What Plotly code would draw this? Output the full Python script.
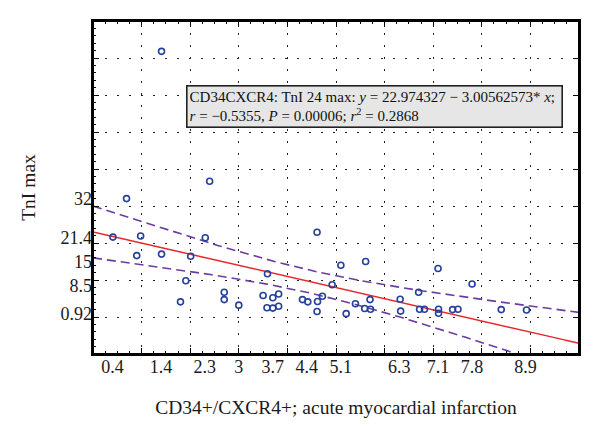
import numpy as np
import plotly.graph_objects as go

# ---- data ----
cd34_x = [0.41, 0.69, 0.90, 0.98, 1.41, 1.41, 1.80, 1.91, 2.01, 2.31, 2.40, 2.70,
          2.70, 3.00, 3.50, 3.59, 3.58, 3.70, 3.70, 3.82, 3.82, 4.31, 4.42, 4.61,
          4.62, 4.61, 4.72, 4.92, 5.10, 5.21, 5.40, 5.59, 5.61, 5.70, 5.71, 6.32,
          6.33, 6.70, 6.72, 6.82, 7.10, 7.11, 7.11, 7.40, 7.51, 7.80, 8.40, 8.92]
tni_y = [21.6, 32.0, 16.6, 21.9, 17.0, 71.8, 4.1, 9.8, 16.4, 21.4, 36.7, 6.7,
         4.7, 3.2, 5.8, 11.7, 2.5, 5.2, 2.4, 6.2, 2.9, 4.7, 4.1, 22.9,
         4.2, 1.5, 5.6, 8.7, 14.0, 0.9, 3.6, 2.3, 15.0, 4.7, 2.1, 4.8,
         1.6, 6.7, 2.1, 2.1, 13.1, 2.1, 1.0, 2.0, 2.1, 8.9, 2.0, 1.9]

x_tick_labels = ["0.4", "1.4", "2.3", "3", "3.7", "4.4", "5.1", "6.3", "7.1", "7.8", "8.9"]
y_tick_labels = ["0.92", "8.5", "15", "21.4", "32"]

intercept = 22.974327
slope = -3.00562573
t_crit = 2.013  # t(0.975, n-2)

x_range = [0, 10]
y_range = [-10, 80]

# ---- regression line and 95% confidence band ----
xa = np.array(cd34_x)
ya = np.array(tni_y)
n = len(xa)
resid = ya - (intercept + slope * xa)
s = np.sqrt(np.sum(resid ** 2) / (n - 2))
xm = xa.mean()
sxx = np.sum((xa - xm) ** 2)
xs = np.linspace(x_range[0], x_range[1], 201)
fit = intercept + slope * xs
half = t_crit * s * np.sqrt(1.0 / n + (xs - xm) ** 2 / sxx)

FONT = "Liberation Serif, Times New Roman, serif"
TXT = "#1a1a1a"
fig = go.Figure()

fig.add_trace(go.Scatter(x=xs, y=fit + half, mode="lines",
                         line=dict(color="#6a3d9f", width=1.6, dash="9px,5px"),
                         hoverinfo="skip", showlegend=False))
fig.add_trace(go.Scatter(x=xs, y=fit - half, mode="lines",
                         line=dict(color="#6a3d9f", width=1.6, dash="9px,5px"),
                         hoverinfo="skip", showlegend=False))
fig.add_trace(go.Scatter(x=xs, y=fit, mode="lines",
                         line=dict(color="#e8262b", width=1.5),
                         hoverinfo="skip", showlegend=False))
fig.add_trace(go.Scatter(x=cd34_x, y=tni_y, mode="markers",
                         marker=dict(symbol="circle-open", size=6, color="#24409a",
                                     line=dict(width=1.6, color="#24409a")),
                         showlegend=False))
# invisible traces on overlay axes (grid / major ticks, minor ticks)
for xr, yr in (("x2", "y2"), ("x3", "y3")):
    fig.add_trace(go.Scatter(x=[x_range[0]], y=[y_range[0]], xaxis=xr, yaxis=yr,
                             mode="markers", marker=dict(opacity=0), hoverinfo="skip",
                             showlegend=False))

major_style = dict(showgrid=True, gridcolor="#222", gridwidth=1.2, griddash="2px,10px",
                   zeroline=False, showline=True, linecolor="black", linewidth=2,
                   mirror="ticks", ticks="inside", ticklen=6, tickcolor="black",
                   tickwidth=1.3, showticklabels=False, automargin=False)
minor_style = dict(showgrid=False, zeroline=False, showline=False, ticks="inside",
                   ticklen=3, tickcolor="black", tickwidth=1.0, showticklabels=False,
                   automargin=False)

fig.update_layout(
    width=592, height=423,
    margin=dict(l=85, r=21, t=13, b=77),
    paper_bgcolor="white", plot_bgcolor="white",
    font=dict(family=FONT, size=18, color=TXT),
    xaxis=dict(range=x_range, automargin=False,
               tickmode="array", tickvals=[float(v) for v in x_tick_labels],
               ticktext=x_tick_labels, ticks="", showgrid=False, zeroline=False,
               showline=False, tickfont=dict(size=18, family=FONT, color=TXT),
               title=dict(text="CD34+/CXCR4+; acute myocardial infarction",
                          font=dict(size=19.5, family=FONT, color=TXT), standoff=24)),
    yaxis=dict(range=y_range, automargin=False,
               tickmode="array", tickvals=[float(v) for v in y_tick_labels],
               ticktext=y_tick_labels, ticks="", showgrid=False, zeroline=False,
               showline=False, tickfont=dict(size=18, family=FONT, color=TXT),
               title=dict(text="TnI max", font=dict(size=19.5, family=FONT, color=TXT),
                          standoff=19)),
    xaxis2=dict(overlaying="x", side="bottom", range=x_range, dtick=1, tick0=0,
                **major_style),
    yaxis2=dict(overlaying="y", side="left", range=y_range, dtick=10, tick0=0,
                **major_style),
    xaxis3=dict(overlaying="x", side="bottom", range=x_range, dtick=0.25, tick0=0,
                mirror="ticks", **minor_style),
    yaxis3=dict(overlaying="y", side="left", range=y_range, dtick=2, tick0=0,
                **minor_style),
)

fig.add_shape(type="rect", xref="paper", yref="paper", x0=0, x1=1, y0=0, y1=1,
              line=dict(color="black", width=2), layer="above")

fig.add_annotation(
    xref="paper", yref="paper", x=0.192, y=0.808, xanchor="left", yanchor="top",
    text=("CD34CXCR4: TnI 24 max: <i>y</i> = 22.974327 \u2212 3.00562573* <i>x</i>;<br>"
          "<i>r</i> = \u22120.5355, <i>P</i> = 0.00006; <i>r</i><sup>2</sup> = 0.2868"),
    align="left", showarrow=False, font=dict(size=15, family=FONT, color="#111"),
    bgcolor="#e6e6e6", bordercolor="#222", borderwidth=1.6, borderpad=2, width=370,
)

fig.write_html("out.html")
